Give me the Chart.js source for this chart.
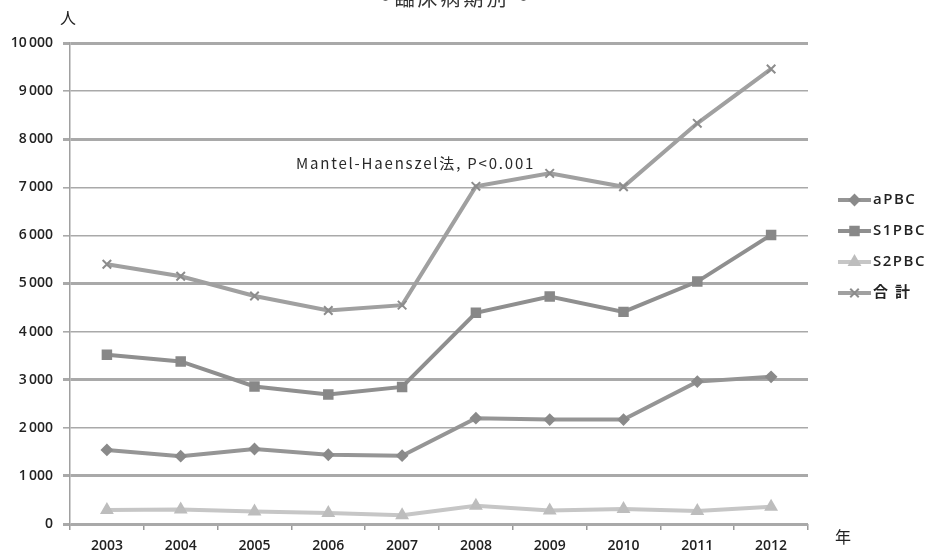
<!DOCTYPE html>
<html lang="ja">
<head>
<meta charset="utf-8">
<title>臨床病期別</title>
<script src="https://cdn.jsdelivr.net/npm/chart.js@4.4.1/dist/chart.umd.min.js"></script>
<style>
  html, body { margin: 0; padding: 0; background: #ffffff; }
  #wrap { width: 929px; height: 553px; position: relative; }
</style>
</head>
<body>
<div id="wrap"><canvas id="c" width="929" height="553"></canvas></div>
<script>
// Yearly patient counts by clinical stage
const years = ['2003', '2004', '2005', '2006', '2007', '2008', '2009', '2010', '2011', '2012'];
const seriesNames = ['aPBC', 'S1PBC', 'S2PBC', '合 計'];
const aPBC  = [1540, 1410, 1560, 1440, 1420, 2200, 2170, 2170, 2960, 3060];
const S1PBC = [3520, 3380, 2860, 2690, 2850, 4390, 4730, 4410, 5040, 6010];
const S2PBC = [290, 300, 260, 230, 180, 380, 280, 310, 270, 360];
const total = [5400, 5150, 4740, 4440, 4550, 7020, 7290, 7010, 8330, 9460];
const yTicks = [0, 1000, 2000, 3000, 4000, 5000, 6000, 7000, 8000, 9000, 10000];

const chartTitle = '〜臨床病期別〜';
const yUnit = '人';
const xUnit = '年';
const note = 'Mantel-Haenszel法, P<0.001';

const labelFont = '"Open Sans", "Noto Sans CJK JP", sans-serif';

function seriesStyle(color, pointStyle, radius, pointColor) {
  return {
    borderColor: color,
    backgroundColor: pointColor || color,
    pointBorderColor: pointColor || color,
    pointBackgroundColor: pointColor || color,
    borderWidth: 4,
    pointStyle: pointStyle,
    pointRadius: radius,
    pointBorderWidth: 2,
    pointHoverRadius: radius,
    tension: 0,
    fill: false
  };
}

const datasets = [
  Object.assign({ label: seriesNames[0], data: aPBC }, seriesStyle('#959595', 'rectRot', 5, '#8a8a8a')),
  Object.assign({ label: seriesNames[1], data: S1PBC }, seriesStyle('#8f8f8f', 'rect', 6, '#888888')),
  Object.assign({ label: seriesNames[2], data: S2PBC }, seriesStyle('#c6c6c6', 'triangle', 6, '#bdbdbd')),
  Object.assign({ label: seriesNames[3], data: total }, seriesStyle('#a0a0a0', 'crossRot', 6, '#8c8c8c'))
];

// Heavier grid rules on some levels, lighter on others
const heavyLevels = [0, 1000, 3000, 5000, 8000, 10000];

function setSpacing(ctx, s) {
  if ('letterSpacing' in ctx) ctx.letterSpacing = s;
}

// Title, unit captions, annotation and side legend drawn on the canvas
const extras = {
  id: 'extras',
  afterDraw(chart) {
    const ctx = chart.ctx;
    const area = chart.chartArea;
    ctx.save();

    ctx.fillStyle = '#333333';
    ctx.font = '20px "Noto Sans CJK JP", sans-serif';
    ctx.textAlign = 'center';
    ctx.textBaseline = 'middle';
    setSpacing(ctx, '3px');
    ctx.fillText(chartTitle, 452, -2);
    setSpacing(ctx, '0px');

    ctx.fillStyle = '#222222';
    ctx.font = '16px "Noto Sans CJK JP", sans-serif';
    ctx.fillText(yUnit, area.left - 2, 18);
    ctx.fillText(xUnit, 843, 537);

    ctx.fillStyle = '#2a2a2a';
    ctx.font = '15px "Noto Sans CJK JP", sans-serif';
    ctx.textAlign = 'left';
    setSpacing(ctx, '1.8px');
    ctx.fillText(note, 296, 163);

    // legend rows
    const x0 = 838, x1 = 871;
    const rowY = [200, 231, 262, 293];
    ctx.font = '600 15px ' + labelFont;
    setSpacing(ctx, '1.5px');
    chart.data.datasets.forEach((ds, i) => {
      const y = rowY[i];
      ctx.strokeStyle = ds.borderColor;
      ctx.lineWidth = ds.borderWidth;
      ctx.beginPath();
      ctx.moveTo(x0, y);
      ctx.lineTo(x1, y);
      ctx.stroke();
      ctx.fillStyle = ds.pointBackgroundColor;
      ctx.strokeStyle = ds.pointBorderColor;
      ctx.lineWidth = ds.pointBorderWidth;
      Chart.helpers.drawPoint(ctx, {
        pointStyle: ds.pointStyle,
        radius: ds.pointRadius,
        rotation: 0,
        borderWidth: ds.pointBorderWidth
      }, (x0 + x1) / 2, y);
      ctx.fillStyle = '#222222';
      ctx.textBaseline = 'middle';
      ctx.fillText(ds.label, x1 + 2, y);
    });
    ctx.restore();
  }
};

new Chart(document.getElementById('c'), {
  type: 'line',
  data: { labels: years, datasets: datasets },
  options: {
    responsive: false,
    animation: false,
    devicePixelRatio: 1,
    layout: { padding: { top: 43, right: 121, left: 0, bottom: 0 } },
    plugins: {
      legend: { display: false },
      tooltip: { enabled: false },
      title: { display: false }
    },
    scales: {
      x: {
        type: 'category',
        offset: true,
        afterFit(scale) { scale.height = 29; },
        grid: {
          offset: true,
          drawOnChartArea: false,
          drawTicks: true,
          tickLength: 6,
          color: '#9a9a9a',
          lineWidth: 1.5
        },
        border: { display: false },
        ticks: {
          color: '#222222',
          font: { family: labelFont, size: 14, weight: '600' },
          padding: 8,
          maxRotation: 0,
          autoSkip: false
        }
      },
      y: {
        min: 0,
        max: 10000,
        afterFit(scale) { scale.width = 70; },
        afterBuildTicks(scale) { scale.ticks = yTicks.map(v => ({ value: v })); },
        grid: {
          color: '#a9a9a9',
          lineWidth: ctx => (ctx.tick && heavyLevels.includes(ctx.tick.value)) ? 3 : 1.6,
          drawTicks: true,
          tickLength: 7
        },
        border: { display: true, color: '#a0a0a0', width: 1.5 },
        ticks: {
          color: '#222222',
          font: { family: labelFont, size: 14, weight: '600' },
          padding: 10,
          callback: v => v >= 1000 ? Math.floor(v / 1000) + '\u2009000' : String(v)
        }
      }
    }
  },
  plugins: [extras]
});
</script>
</body>
</html>
